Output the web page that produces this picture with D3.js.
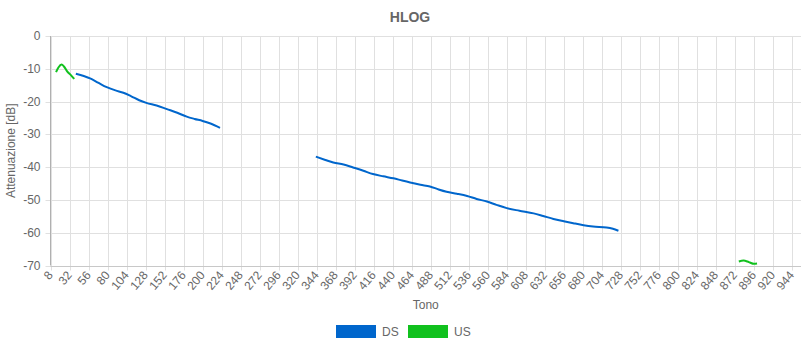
<!DOCTYPE html>
<html>
<head>
  <meta charset="UTF-8">
  <title>HLOG</title>
  <script src="https://cdn.jsdelivr.net/npm/d3@7"></script>
  <style>
    body { margin: 0; background: #fff; }
    text { font-family: "Liberation Sans", Arial, sans-serif; fill: #666; }
  </style>
</head>
<body>
<svg id="chart" width="810" height="350"></svg>
<script>
// tone ticks shown on the x axis
var toneTicks = d3.range(8, 945, 24);
var dbTicks = [0, -10, -20, -30, -40, -50, -60, -70];

// downstream segments [tone, dB]
var ds1 = [[40,-11.5],[50,-12.2],[58,-12.9],[68,-14.2],[79,-15.6],[90,-16.6],[100,-17.3],
  [110,-18.4],[120,-19.6],[129,-20.4],[142,-21.2],[155,-22.3],[168,-23.4],[180,-24.6],
  [190,-25.3],[200,-25.9],[210,-26.7],[222,-28.0]];
var ds2 = [[343,-36.8],[355,-37.8],[365,-38.6],[378,-39.2],[390,-40.1],[403,-41.1],[415,-42.1],
  [428,-42.8],[441,-43.4],[452,-44.1],[462,-44.7],[475,-45.4],[487,-45.9],[498,-46.8],
  [508,-47.5],[521,-48.1],[534,-48.8],[546,-49.7],[559,-50.5],[571,-51.5],[584,-52.5],
  [600,-53.3],[618,-54.1],[630,-54.9],[643,-55.8],[656,-56.5],[668,-57.1],[681,-57.7],
  [693,-58.1],[710,-58.4],[718,-58.8],[725,-59.4]];
// upstream segments
var us1 = [[15,-11.0],[18,-9.6],[22,-8.7],[25,-9.3],[29,-10.8],[34,-12.0],[38,-13.1]];
var us2 = [[877,-68.8],[883,-68.5],[888,-68.8],[891,-69.1],[896,-69.5],[900,-69.4]];

var seriesNames = ['DS', 'US'];
var seriesColors = ['#0066cc', '#11c11e'];

var svg = d3.select('#chart');
var margin = {left: 50.5, right: 9, top: 36, bottom: 84.5};
var W = 810, H = 350;

var x = d3.scaleLinear().domain([8, 955.5]).range([margin.left, W - margin.right]);
var y = d3.scaleLinear().domain([-70, 0]).range([H - margin.bottom, margin.top]);

// grid
var grid = svg.append('g');
grid.selectAll('.vg').data(toneTicks).enter().append('line')
  .attr('x1', function(d){ return Math.round(x(d)) + 0.5; })
  .attr('x2', function(d){ return Math.round(x(d)) + 0.5; })
  .attr('y1', y(0)).attr('y2', y(-70) + 5)
  .style('stroke', '#e0e0e0');
grid.selectAll('.hg').data(dbTicks).enter().append('line')
  .attr('x1', x(8) - 5).attr('x2', x(955.5))
  .attr('y1', function(d){ return Math.round(y(d)) + 0.5; })
  .attr('y2', function(d){ return Math.round(y(d)) + 0.5; })
  .style('stroke', '#e0e0e0');

// axis lines
svg.append('line').attr('x1', x(8)).attr('x2', x(8)).attr('y1', y(0)).attr('y2', y(-70))
  .style('stroke', '#b0b0b0');
svg.append('line').attr('x1', x(8)).attr('x2', x(955.5)).attr('y1', Math.round(y(-70)) + 0.5)
  .attr('y2', Math.round(y(-70)) + 0.5).style('stroke', '#c8c8c8');

// y labels
svg.selectAll('.yl').data(dbTicks).enter().append('text')
  .attr('x', x(8) - 10).attr('y', function(d){ return y(d) + 4; })
  .attr('text-anchor', 'end').style('font-size', '12px')
  .text(function(d){ return d; });

// x labels
svg.selectAll('.xl').data(toneTicks).enter().append('text')
  .attr('transform', function(d){ return 'translate(' + (x(d) + 3) + ',' + (y(-70) + 10) + ')rotate(-50)'; })
  .attr('text-anchor', 'end').style('font-size', '12px')
  .text(function(d){ return d; });

// titles
svg.append('text').attr('x', 410).attr('y', 22).attr('text-anchor', 'middle')
  .style('font-size', '14px').style('font-weight', 'bold').text('HLOG');
svg.append('text').attr('x', (x(8) + x(955.5)) / 2).attr('y', 309).attr('text-anchor', 'middle')
  .style('font-size', '12px').text('Tono');
svg.append('text').attr('transform', 'translate(15,' + ((y(0) + y(-70)) / 2) + ')rotate(-90)')
  .attr('text-anchor', 'middle').style('font-size', '12px').text('Attenuazione [dB]');

// lines
var line = d3.line().x(function(d){ return x(d[0]); }).y(function(d){ return y(d[1]); })
  .curve(d3.curveMonotoneX);
[[ds1, 0], [ds2, 0], [us1, 1], [us2, 1]].forEach(function(s){
  svg.append('path').datum(s[0]).attr('d', line)
    .style('fill', 'none').style('stroke', seriesColors[s[1]]).style('stroke-width', 2);
});

// legend
var leg = svg.append('g').attr('transform', 'translate(336,325)');
seriesNames.forEach(function(n, i){
  var g = leg.append('g').attr('transform', 'translate(' + (i * 72) + ',0)');
  g.append('rect').attr('width', 40).attr('height', 13).style('fill', seriesColors[i]);
  g.append('text').attr('x', 46).attr('y', 11).style('font-size', '12px').text(n);
});
</script>
</body>
</html>
